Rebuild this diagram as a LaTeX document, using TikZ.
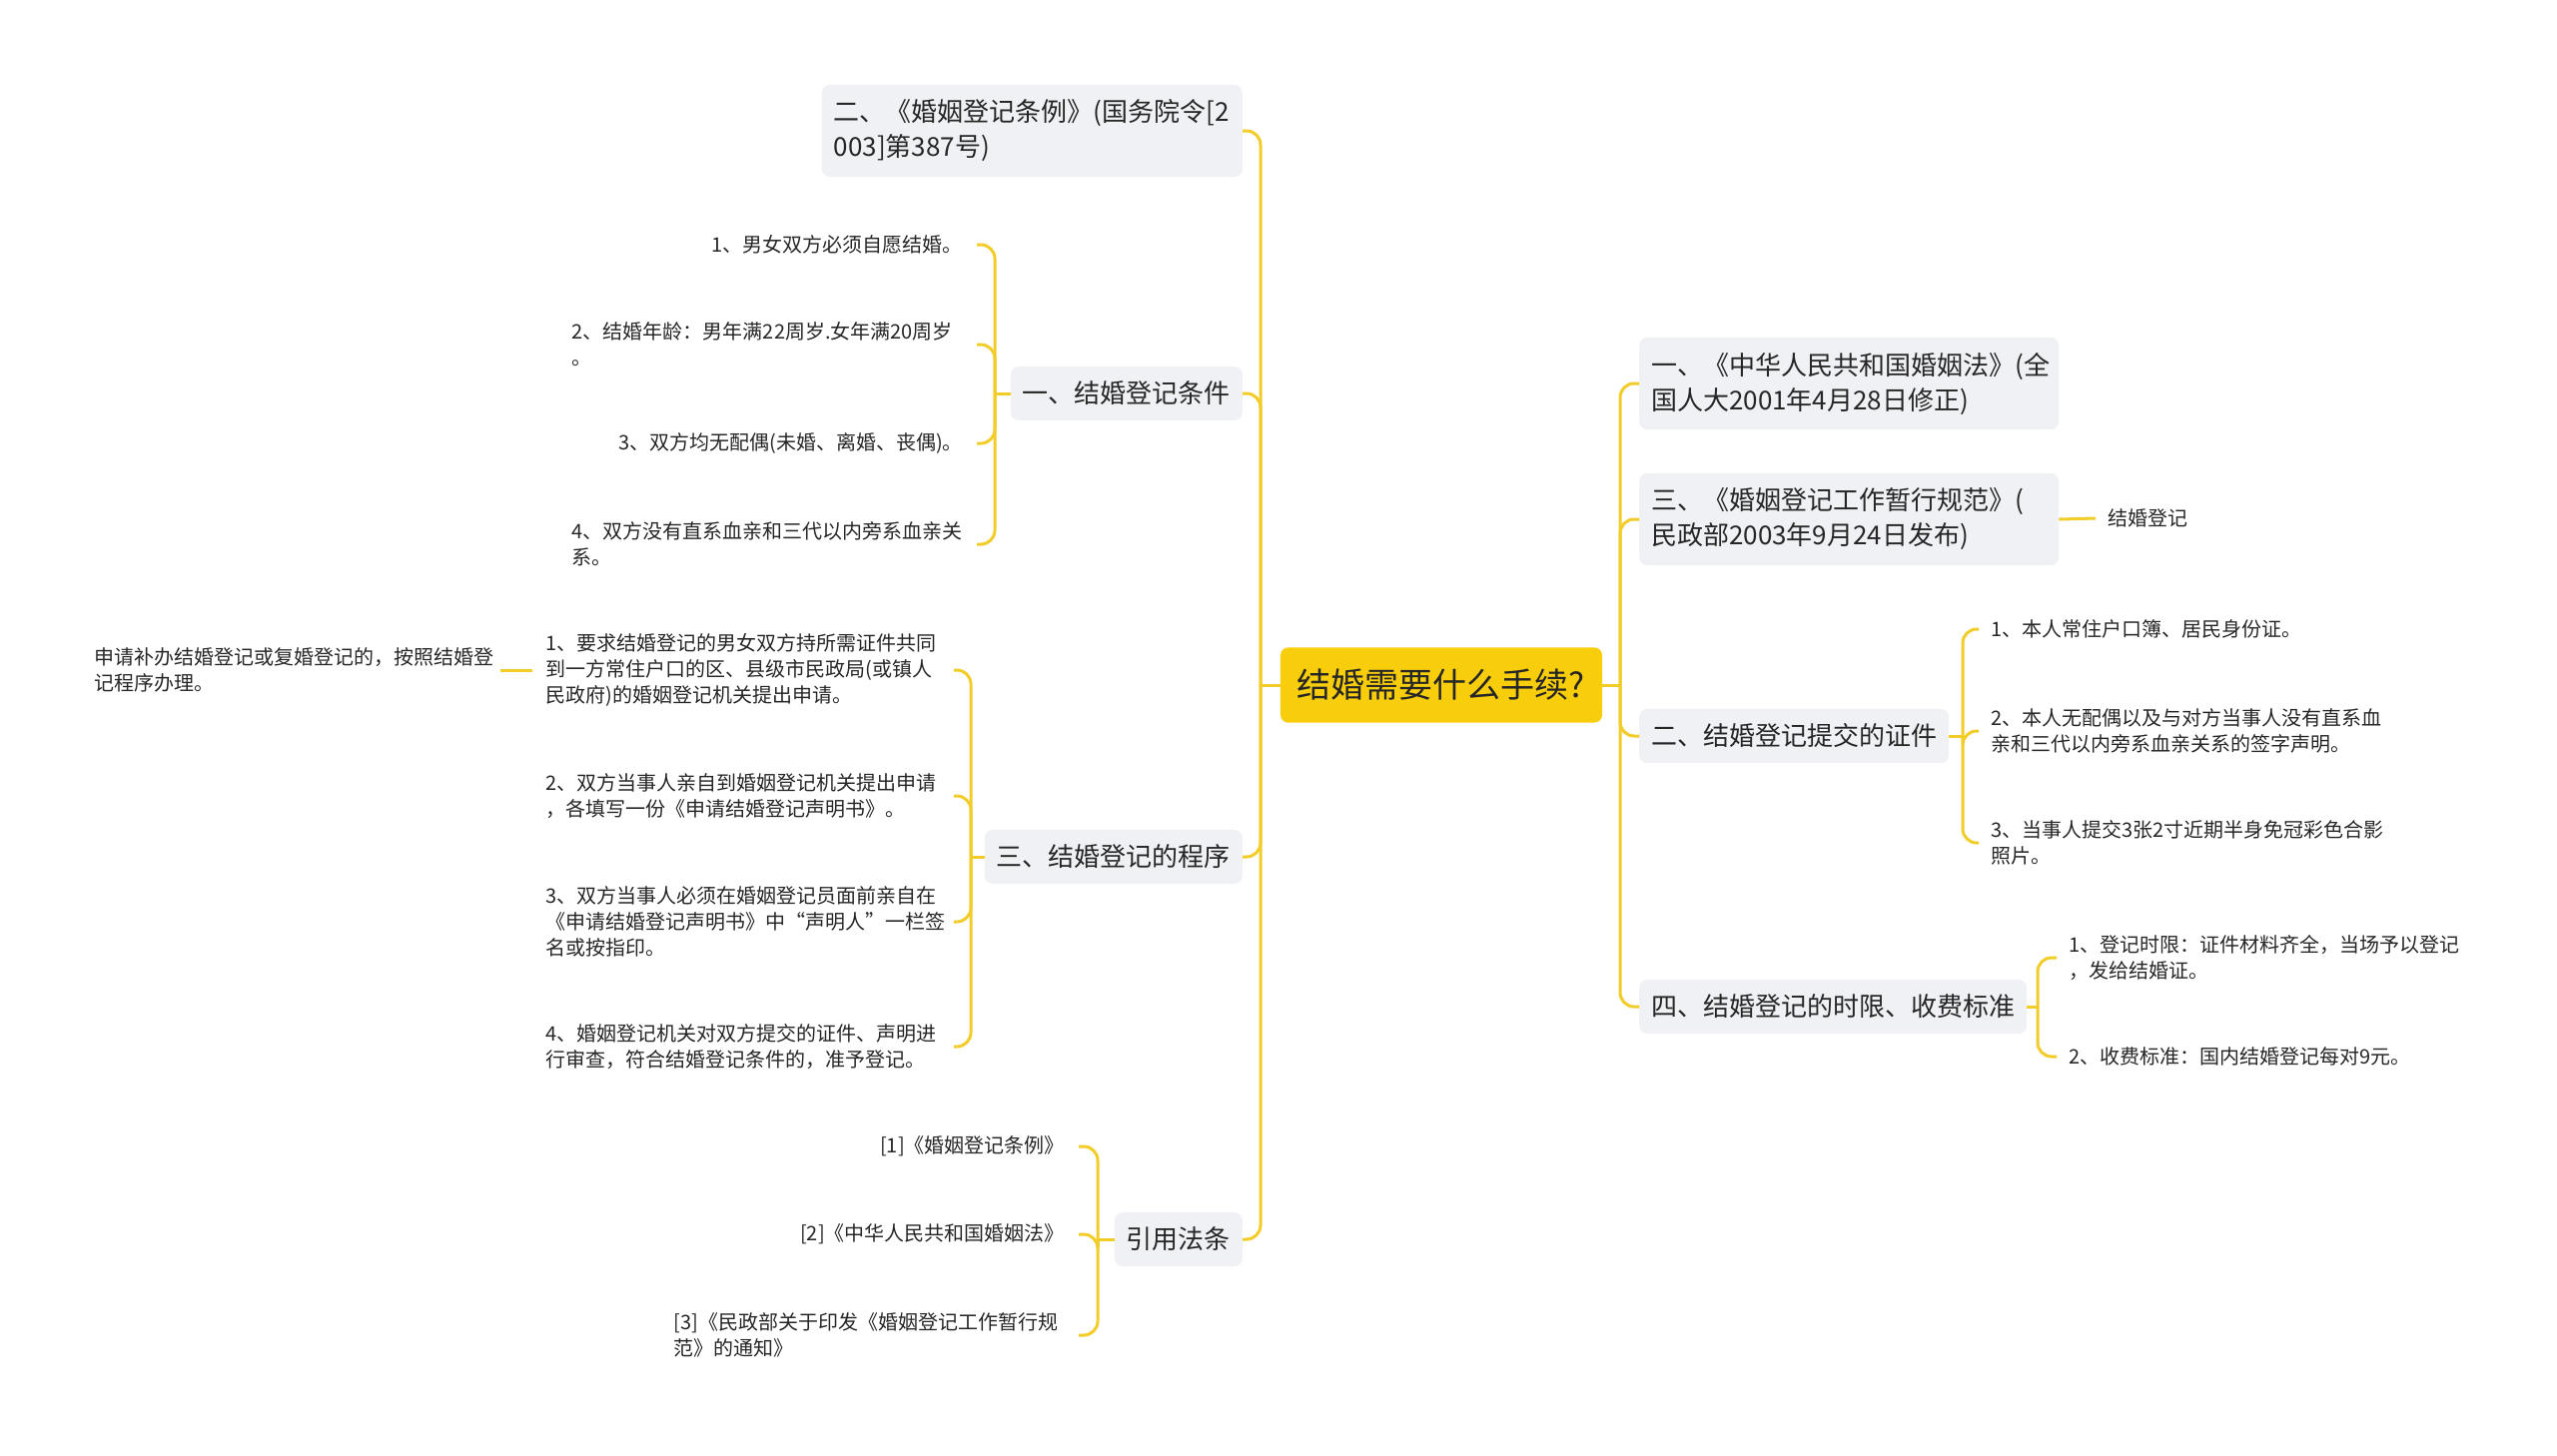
\documentclass[tikz,border=0pt]{standalone}
\usepackage{fontspec}
\setmainfont{Noto Sans CJK SC}
\definecolor{linkgold}{RGB}{242,204,40}
\definecolor{rootgold}{RGB}{247,205,12}
\definecolor{topicgray}{RGB}{239,241,244}
\definecolor{inkdark}{RGB}{38,38,38}

\begin{document}
\begin{tikzpicture}[x=1pt, y=-1pt,
  link/.style={draw=linkgold, line width=3pt, rounded corners=14pt},
  hub/.style={fill=rootgold, rounded corners=8pt, inner xsep=17pt, inner ysep=22pt,
    font=\fontsize{34}{40}\selectfont, text=inkdark},
  topic/.style={fill=topicgray, rounded corners=8pt, inner xsep=12pt, inner ysep=15pt,
    align=left, font=\fontsize{26}{35}\selectfont, text=inkdark},
  leaf/.style={inner xsep=14pt, inner ysep=4pt, align=left,
    font=\fontsize{20}{26}\selectfont, text=inkdark}]

  \useasboundingbox (0,0) rectangle (2560,1457);

  %% ---- centre ----
  \node[hub] (root) at (1443,686) {结婚需要什么手续?};
  \coordinate (lt) at (1262,686);
  \coordinate (rt) at (1622,686);
  \draw[link] (root.west) -- (lt);
  \draw[link] (root.east) -- (rt);

  %% ---- left topics ----
  \node[topic, anchor=east, text width=397pt] (tiaoli) at (1244,131) {二、《婚姻登记条例》(国务院令[2\\003]第387号)};
  \node[topic, anchor=east] (tiaojian) at (1244,394) {一、结婚登记条件};
  \node[topic, anchor=east] (chengxu) at (1244,858) {三、结婚登记的程序};
  \node[topic, anchor=east] (fatiao) at (1244,1241) {引用法条};
  \foreach \nd in {tiaoli,tiaojian,chengxu,fatiao}
    \draw[link] (lt) |- (\nd.east);

  %% conditions
  \coordinate (tiaojian-b) at (996,394);
  \draw[link] (tiaojian.west) -- (tiaojian-b);
  \node[leaf, anchor=east] (tj1) at (978,245) {1、男女双方必须自愿结婚。};
  \node[leaf, anchor=east, text width=391pt] (tj2) at (978,345) {2、结婚年龄：男年满22周岁.女年满20周岁\\。};
  \node[leaf, anchor=east] (tj3) at (978,444) {3、双方均无配偶(未婚、离婚、丧偶)。};
  \node[leaf, anchor=east, text width=391pt] (tj4) at (978,545) {4、双方没有直系血亲和三代以内旁系血亲关\\系。};
  \foreach \nd in {tj1,tj2,tj3,tj4}
    \draw[link] (tiaojian-b) |- (\nd.east);

  %% procedure
  \coordinate (chengxu-b) at (972,858);
  \draw[link] (chengxu.west) -- (chengxu-b);
  \node[leaf, anchor=east, text width=394pt] (cx1) at (955,671) {1、要求结婚登记的男女双方持所需证件共同\\到一方常住户口的区、县级市民政局(或镇人\\民政府)的婚姻登记机关提出申请。};
  \node[leaf, anchor=east, text width=394pt] (cx2) at (955,797) {2、双方当事人亲自到婚姻登记机关提出申请\\，各填写一份《申请结婚登记声明书》。};
  \node[leaf, anchor=east, text width=394pt] (cx3) at (955,923) {3、双方当事人必须在婚姻登记员面前亲自在\\《申请结婚登记声明书》中“声明人”一栏签\\名或按指印。};
  \node[leaf, anchor=east, text width=394pt] (cx4) at (955,1048) {4、婚姻登记机关对双方提交的证件、声明进\\行审查，符合结婚登记条件的，准予登记。};
  \foreach \nd in {cx1,cx2,cx3,cx4}
    \draw[link] (chengxu-b) |- (\nd.east);

  \node[leaf, anchor=east, text width=395pt, inner xsep=11pt] (buban) at (501,671) {申请补办结婚登记或复婚登记的，按照结婚登\\记程序办理。};
  \draw[link] (cx1.west) -- (buban.east);

  %% cited laws
  \coordinate (fatiao-b) at (1099,1241);
  \draw[link] (fatiao.west) -- (fatiao-b);
  \node[leaf, anchor=east] (ft1) at (1080,1148) {[1]《婚姻登记条例》};
  \node[leaf, anchor=east] (ft2) at (1080,1236) {[2]《中华人民共和国婚姻法》};
  \node[leaf, anchor=east, text width=391pt] (ft3) at (1080,1337) {[3]《民政部关于印发《婚姻登记工作暂行规\\范》的通知》};
  \foreach \nd in {ft1,ft2,ft3}
    \draw[link] (fatiao-b) |- (\nd.east);

  %% ---- right topics ----
  \node[topic, anchor=west, text width=396pt] (hunyinfa) at (1641,384) {一、《中华人民共和国婚姻法》(全\\国人大2001年4月28日修正)};
  \node[topic, anchor=west, text width=396pt] (guifan) at (1641,520) {三、《婚姻登记工作暂行规范》(\\民政部2003年9月24日发布)};
  \node[topic, anchor=west] (zhengjian) at (1641,737) {二、结婚登记提交的证件};
  \node[topic, anchor=west] (shixian) at (1641,1008) {四、结婚登记的时限、收费标准};
  \foreach \nd in {hunyinfa,guifan,zhengjian,shixian}
    \draw[link] (rt) |- (\nd.west);

  \node[leaf, anchor=west, inner xsep=12pt] (dengji) at (2098,519) {结婚登记};
  \draw[link] (guifan.east) -- (dengji.west);

  %% documents
  \coordinate (zhengjian-b) at (1965,737);
  \draw[link] (zhengjian.east) -- (zhengjian-b);
  \node[leaf, anchor=west, inner xsep=12pt] (zj1) at (1981,630) {1、本人常住户口簿、居民身份证。};
  \node[leaf, anchor=west, inner xsep=12pt, text width=400pt] (zj2) at (1981,732) {2、本人无配偶以及与对方当事人没有直系血\\亲和三代以内旁系血亲关系的签字声明。};
  \node[leaf, anchor=west, inner xsep=12pt, text width=400pt] (zj3) at (1981,844) {3、当事人提交3张2寸近期半身免冠彩色合影\\照片。};
  \foreach \nd in {zj1,zj2,zj3}
    \draw[link] (zhengjian-b) |- (\nd.west);

  %% time limit and fee
  \coordinate (shixian-b) at (2040,1008);
  \draw[link] (shixian.east) -- (shixian-b);
  \node[leaf, anchor=west, inner xsep=12pt, text width=400pt] (sx1) at (2059,959) {1、登记时限：证件材料齐全，当场予以登记\\，发给结婚证。};
  \node[leaf, anchor=west, inner xsep=12pt] (sx2) at (2059,1058) {2、收费标准：国内结婚登记每对9元。};
  \foreach \nd in {sx1,sx2}
    \draw[link] (shixian-b) |- (\nd.west);

\end{tikzpicture}
\end{document}
